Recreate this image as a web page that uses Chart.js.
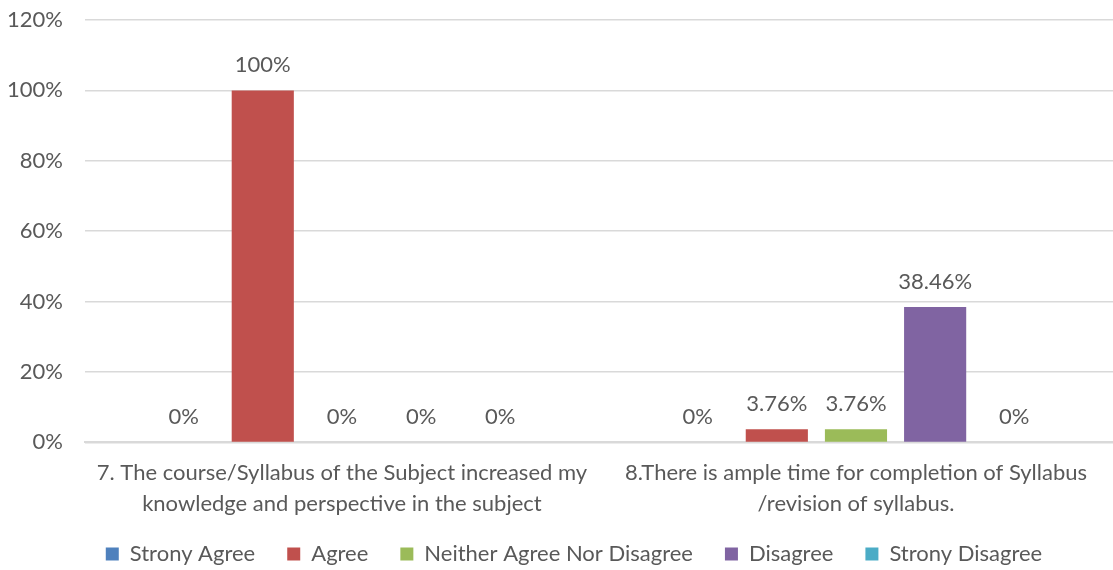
<!DOCTYPE html>
<html>
<head>
<meta charset="utf-8">
<script src="https://cdn.jsdelivr.net/npm/chart.js@4"></script>
<style>
  html, body { margin: 0; padding: 0; background: #ffffff; }
  #wrap { width: 1113px; height: 570px; }
</style>
</head>
<body>
<div id="wrap"><canvas id="surveyChart"></canvas></div>
<script>
// Categories (question text, split over two lines like the original)
const questions = [
    ['7. The course/Syllabus of the Subject increased my', 'knowledge and perspective in the subject'],
    ['8.There is ample time for completion of Syllabus', '/revision of syllabus.']
];

// Response series, percent per question
const stronglyAgree = [0, 0];
const agree = [100, 3.76];
const neither = [0, 3.76];
const disagree = [0, 38.46];
const stronglyDisagree = [0, 0];

const seriesNames = ['Strony Agree', 'Agree', 'Neither Agree Nor Disagree', 'Disagree', 'Strony Disagree'];
const seriesColors = ['#4F81BD', '#C0504D', '#9BBB59', '#8064A2', '#4BACC6'];

const textColor = '#595959';
const fontFamily = 'Lato, "Open Sans", sans-serif';
const fontSize = 22;

// Value labels above each bar + small legend placement tweaks
const barLabels = {
    id: 'barLabels',
    beforeInit(chart) {
        // legend padding gives the wide horizontal gaps, but is too tall vertically
        const lg = chart.legend;
        const fit = lg.fit;
        lg.fit = function () { fit.call(this); this.height -= 13; };
    },
    afterLayout(chart) {
        // legend in the original sits a bit right of centre
        chart.legend.left += 25;
        chart.legend.right += 25;
        chart.legend.top -= 15;
    },
    afterDatasetsDraw(chart) {
        const ctx = chart.ctx;
        ctx.save();
        ctx.font = fontSize + 'px ' + fontFamily;
        ctx.fillStyle = textColor;
        ctx.textAlign = 'center';
        ctx.textBaseline = 'bottom';
        chart.data.datasets.forEach((ds, i) => {
            const meta = chart.getDatasetMeta(i);
            meta.data.forEach((bar, j) => {
                const v = ds.data[j];
                ctx.fillText(v + '%', bar.x, bar.y - 14);
            });
        });
        ctx.restore();
    }
};

const datasets = [stronglyAgree, agree, neither, disagree, stronglyDisagree].map((d, i) => ({
    label: seriesNames[i],
    data: d,
    backgroundColor: seriesColors[i],
    borderWidth: 0,
    categoryPercentage: 0.77,
    barPercentage: 0.785
}));

const ctx = document.getElementById('surveyChart').getContext('2d');
new Chart(ctx, {
    type: 'bar',
    data: { labels: questions, datasets: datasets },
    options: {
        responsive: true,
        maintainAspectRatio: false,
        animation: false,
        layout: { padding: { top: 0, right: 0, left: -15, bottom: -7 } },
        scales: {
            x: {
                grid: { display: false },
                border: { color: '#d9d9d9', width: 2 },
                ticks: {
                    color: textColor,
                    font: { family: fontFamily, size: fontSize, lineHeight: 1.4 },
                    maxRotation: 0,
                    padding: 7
                }
            },
            y: {
                min: 0,
                max: 120,
                grid: { color: '#d9d9d9', lineWidth: 1.5, drawTicks: false },
                border: { display: false },
                ticks: {
                    stepSize: 20,
                    color: textColor,
                    padding: 22,
                    font: { family: fontFamily, size: fontSize },
                    callback: v => v + '%'
                },
                afterFit(scale) { scale.paddingTop = 20; }
            }
        },
        plugins: {
            legend: {
                position: 'bottom',
                labels: {
                    color: textColor,
                    boxWidth: 13,
                    boxHeight: 13,
                    padding: 32,
                    font: { family: fontFamily, size: fontSize }
                }
            },
            tooltip: { enabled: false }
        }
    },
    plugins: [barLabels]
});
</script>
</body>
</html>
